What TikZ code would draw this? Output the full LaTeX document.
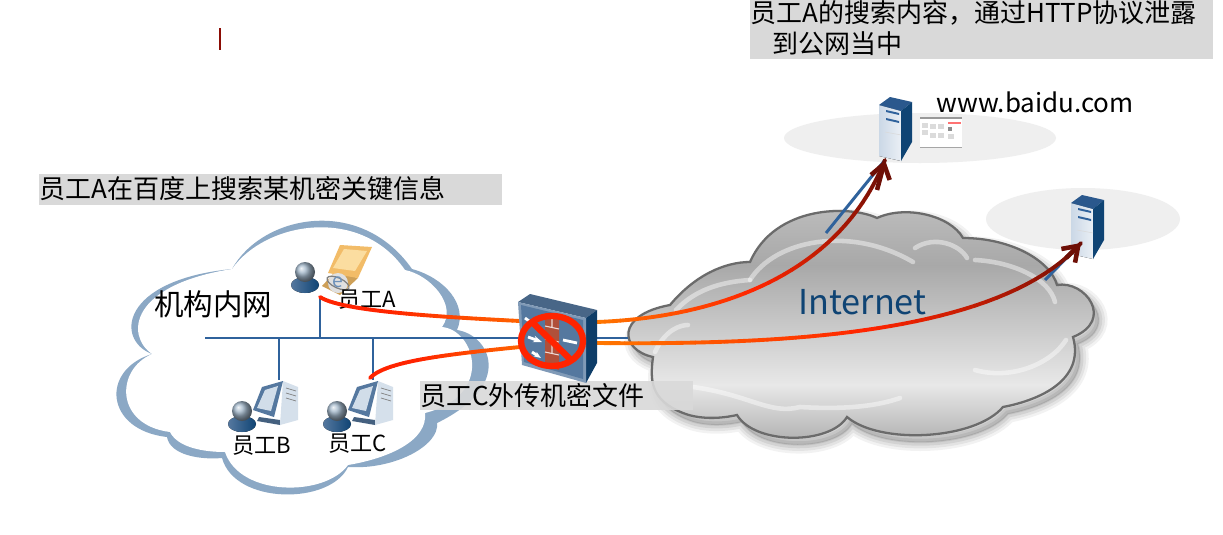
\documentclass[tikz,border=0pt]{standalone}
\usepackage{fontspec}
\newfontfamily\cjk{Noto Sans CJK SC}
\usetikzlibrary{arrows.meta}
\definecolor{cloudblue}{HTML}{8BA8C5}
\definecolor{busblue}{HTML}{2F629C}
\definecolor{navy}{HTML}{0F4474}
\definecolor{labelgray}{HTML}{D9D9D9}
\definecolor{plategray}{HTML}{EFEFEF}
\definecolor{wirered}{HTML}{FF2400}
\definecolor{wireorange}{HTML}{FF7A00}
\definecolor{wiredark}{HTML}{6E0F06}
\definecolor{brick}{HTML}{B0503A}
\definecolor{steel}{HTML}{55789F}
\definecolor{lapfront}{HTML}{F2BC68}
\definecolor{lapscreen}{HTML}{FBDDA0}
\tikzset{
  cn/.style={font=\cjk\fontsize{14.8}{18}\selectfont, inner sep=0pt, anchor=west},
  small cn/.style={font=\cjk\fontsize{12.6}{15}\selectfont, inner sep=0pt, anchor=west},
  bus/.style={busblue, line width=1.7pt},
  shine/.style={white, opacity=.45, line width=2.6pt, line cap=round},
  server/.pic={
    \fill[left color=white!75!busblue, right color=white!90!busblue] (0,0) -- (22,6) -- (22,56) -- (0,51) -- cycle;
    \fill[busblue!90!black] (0,0) -- (11,-8) -- (33,-3) -- (22,6) -- cycle;
    \fill[navy] (22,6) -- (33,-3) -- (33,37) -- (22,56) -- cycle;
    \fill[busblue] (7,5) -- (20,8) -- (20,10) -- (7,7) -- cycle;
    \fill[busblue] (7,13) -- (20,16) -- (20,18) -- (7,15) -- cycle;
    \draw[white!70!gray, line width=.3pt] (6,27) -- (22,30);
  },
  user/.pic={
    \fill[left color=steel, right color=navy] (0,13) ellipse (14 and 8);
    \shade[ball color=white!60!navy] (0,0) circle (10);
  },
  pc/.pic={
    \fill[steel!80!black] (6,7) -- (27,10) -- (27,15) -- (4,11) -- cycle;
    \fill[white!80!busblue] (30,-29) -- (45,-23) -- (45,10) -- (27,15) -- cycle;
    \fill[steel] (0,0) -- (9,-23) -- (30,-29) -- (21,7) -- cycle;
    \fill[white!78!busblue] (4,-2) -- (12,-20) -- (25,-24) -- (18,1) -- cycle;
    \draw[gray, line width=.4pt] (33,-22) -- (43,-19) (33,-17) -- (43,-14) (33,-12) -- (43,-9);
  },
  firewall/.pic={
    \fill[steel!85!black] (0,0) -- (12,-8) -- (79,8) -- (68,16) -- cycle;
    \fill[navy!90!black] (68,16) -- (79,8) -- (79,61) -- (68,81) -- cycle;
    \fill[steel!75!white] (0,0) -- (68,16) -- (68,81) -- (4,63) -- cycle;
    \fill[steel] (3,3) -- (65,18) -- (65,77) -- (6,60) -- cycle;
    \fill[brick] (27,11) -- (41,14) -- (41,68) -- (27,64) -- cycle;
    \draw[white!80!brick, line width=.6pt] (27,24) -- (41,27) (27,37) -- (41,40) (27,50) -- (41,53) (34,12) -- (34,25) (34,38) -- (34,51);
    \draw[white, line width=1.6pt, -{Stealth[length=5pt]}] (10,35) -- (24,40);
    \draw[white, line width=1.6pt] (45,38) -- (59,41) (7,16) -- (15,22);
    \draw[white, line width=1.6pt, -{Stealth[length=4pt]}] (14,50) -- (23,56);
  },
}
\newcommand{\netcloud}{
  (670,305) .. controls (695,275) and (725,262) .. (750,262)
  .. controls (775,205) and (850,205) .. (877,218)
  .. controls (905,205) and (950,215) .. (963,238)
  .. controls (1010,238) and (1050,260) .. (1057,285)
  .. controls (1085,280) and (1115,320) .. (1073,337)
  .. controls (1085,380) and (1040,400) .. (1003,407)
  .. controls (975,440) and (880,445) .. (847,417)
  .. controls (830,445) and (755,445) .. (737,415)
  .. controls (715,420) and (695,418) .. (683,413)
  .. controls (650,400) and (650,380) .. (653,357)
  .. controls (620,350) and (615,315) .. (670,305) -- cycle}
% wire whose colour runs from #5 over #6 to #7
\newcommand{\fadewire}[7]{
  \foreach \i in {1,...,40} {
    \path (#1) .. controls (#2) and (#3) .. (#4)
      coordinate[pos={(\i-1)/40}] (fadeu) coordinate[pos={\i/40}] (fadev);
    \pgfmathsetmacro{\mixa}{min(100,\i*5)}
    \pgfmathsetmacro{\mixb}{max(0,(\i-20)*5)}
    \colorlet{fadenow}{#6!\mixa!#5}
    \colorlet{fadenow}{#7!\mixb!fadenow}
    \draw[fadenow, line width=2.2pt, line cap=round] (fadeu) -- (fadev);
  }
}
\begin{document}
\begin{tikzpicture}[x=0.02cm, y=-0.02cm]
\useasboundingbox (0,0) rectangle (1223,534);
\fill[white] (0,0) rectangle (1223,534);

\coordinate (busL) at (205,338); \coordinate (busR) at (628,338);
\coordinate (tapA) at (320,338); \coordinate (tapB) at (279,338); \coordinate (tapC) at (373,338);
\coordinate (portA) at (320,297); \coordinate (portB) at (279,380); \coordinate (portC) at (373,380);
\coordinate (leakA) at (370,378); \coordinate (wallA) at (520,321); \coordinate (wallC) at (520,347);
\coordinate (outA) at (597,322); \coordinate (outC) at (597,343);
\coordinate (srvAin) at (885,160); \coordinate (srvBin) at (1081,243);
\coordinate (linkA) at (826,233); \coordinate (linkB) at (1045,280);

% plates under the servers
\fill[plategray] (920,138) ellipse (136 and 25);
\fill[plategray] (1083,219) ellipse (97 and 31);

% Internet cloud
\begin{scope}[shift={(5,7)}]
  \foreach \w/\o in {10/.05, 7/.06, 4/.07, 1/.08}
    \draw[black, opacity=\o, line width=\w pt, fill=black, fill opacity=.03] \netcloud;
\end{scope}
\begin{scope}
  \clip \netcloud;
  \shade[top color=black!26, bottom color=black!34] (620,205) rectangle (1100,265);
  \shade[top color=black!34, bottom color=black!9] (620,265) rectangle (1100,385);
  \shade[top color=black!9, bottom color=black!30] (620,385) rectangle (1100,440);
\end{scope}
\draw[shine] (750,280) .. controls (775,240) and (850,225) .. (913,262);
\draw[shine] (915,248) .. controls (935,235) and (960,245) .. (967,258);
\draw[shine] (975,260) .. controls (1015,262) and (1050,280) .. (1055,302);
\draw[shine] (676,310) .. controls (695,290) and (720,282) .. (750,280);
\draw[shine] (655,352) .. controls (665,330) and (680,325) .. (688,325);
\draw[shine] (693,387) .. controls (750,395) and (770,415) .. (800,407) .. controls (850,410) and (880,405) .. (900,398);
\draw[shine] (975,370) .. controls (1010,380) and (1050,365) .. (1066,340);
\draw[black!58, line width=1.3pt] \netcloud;

% inner network cloud
\fill[cloudblue] (232,269) .. controls (262,215) and (360,195) .. (412,269)
  .. controls (445,278) and (468,305) .. (457,330)
  .. controls (490,335) and (515,385) .. (437,423)
  .. controls (440,445) and (395,470) .. (348,467)
  .. controls (330,505) and (235,505) .. (222,458)
  .. controls (200,460) and (170,455) .. (167,437)
  .. controls (105,430) and (100,370) .. (152,354)
  .. controls (115,340) and (120,280) .. (232,269) -- cycle;
\fill[white] (232,269) .. controls (265,222) and (360,205) .. (405,270)
  .. controls (430,275) and (458,305) .. (442,327)
  .. controls (475,330) and (495,395) .. (425,413)
  .. controls (428,440) and (390,458) .. (348,465)
  .. controls (325,497) and (240,497) .. (225,452)
  .. controls (205,452) and (178,448) .. (170,432)
  .. controls (115,425) and (115,370) .. (152,354)
  .. controls (125,335) and (130,285) .. (232,269) -- cycle;

% wiring
\draw[bus] (busL) -- (busR);
\draw[bus] (tapA) -- (portA);
\draw[bus] (tapB) -- (portB);
\draw[bus] (tapC) -- (portC);
\draw[bus] (linkA) -- (srvAin);
\draw[bus] (linkB) -- (srvBin);

% servers and page
\pic (srvA) at (879,105) {server};
\pic (srvB) at (1071,203) {server};
\fill[white] (920,117) rectangle (962,148);
\fill[black!40] (920,117) rectangle (962,119);
\fill[black!35] (920,147) rectangle (962,148);
\foreach \px/\py in {922/123, 922/130, 930/124, 930/133, 938/124, 938/133, 948/134}
  \fill[black!14] (\px,\py) rectangle ++(6,5);
\fill[red!55!white] (948,122) rectangle ++(13,2);
\fill[black!45] (948,127) rectangle ++(4,4);

% staff
\fill[lapfront!85!black] (322,286) -- (335,272) -- (358,278) -- (340,295) -- cycle;
\fill[lapfront] (340,245) -- (372,247) -- (358,278) -- (328,273) -- cycle;
\fill[lapscreen] (344,249) -- (367,251) -- (355,271) -- (333,268) -- cycle;
\pic (userA) at (305,272) {user};
\fill[black!12] (338,283) circle (10);
\draw[black!50, line width=.7pt, rotate around={-25:(338,283)}] (338,283) ellipse (12 and 5);
\node[inner sep=0pt, text=busblue!70!white, font=\cjk\itshape\fontsize{11}{11}\selectfont] (ieA) at (338,282) {e};
\pic (userB) at (242,411) {user};
\pic (pcB) at (253,410) {pc};
\pic (userC) at (337,411) {user};
\pic (pcC) at (348,410) {pc};

% labels
\fill[labelgray] (39,174) rectangle (502,205);
\fill[labelgray] (750,0) rectangle (1213,59);
\fill[labelgray, opacity=.9] (420,381) rectangle (693,410);
\draw[wiredark!80!red, line width=.8pt] (220,28) -- (220,50);
\node[cn] (noteA) at (39,189) {员工A在百度上搜索某机密关键信息};
\node[cn] (noteTopA) at (750,13) {员工A的搜索内容，通过HTTP协议泄露};
\node[cn] (noteTopB) at (772,44) {到公网当中};
\node[cn] (noteC) at (420,396) {员工C外传机密文件};
\node[cn, font=\cjk\fontsize{16.8}{20}\selectfont] (lan) at (154,304) {机构内网};
\node[small cn] (nameA) at (338,300) {员工A};
\node[small cn] (nameB) at (232,446) {员工B};
\node[small cn] (nameC) at (328,444) {员工C};
\node[cn] (baidu) at (936,102) {www.baidu.com};
\node[cn, text=navy, font=\cjk\fontsize{19.5}{22}\selectfont] (inet) at (798,302) {Internet};

% leaking wires
\fadewire{portA}{340,310}{420,316}{wallA}{wirered}{wirered}{wireorange!70!wirered}
\fadewire{leakA}{385,362}{440,355}{wallC}{wirered}{wirered}{wireorange!70!wirered}
\fadewire{outA}{700,318}{835,285}{srvAin}{wireorange}{wirered}{wiredark}
\fadewire{outC}{780,345}{1000,335}{srvBin}{wireorange}{wirered}{wiredark}
\draw[wiredark, line width=2.6pt, -{Straight Barb[length=8pt, width=11pt]}] (877,190) -- (srvAin);
\draw[wiredark, line width=2.6pt, -{Straight Barb[length=8pt, width=11pt]}] (1066,258) -- (srvBin);

% firewall with ban sign on top
\pic (gate) at (518,302) {firewall};
\draw[wirered, line width=3.6pt] (552,341) ellipse (31 and 25);
\coordinate (banA) at (533,323); \coordinate (banB) at (571,360);
\draw[wirered, line width=3.6pt] (banA) -- (banB);
\end{tikzpicture}
\end{document}
